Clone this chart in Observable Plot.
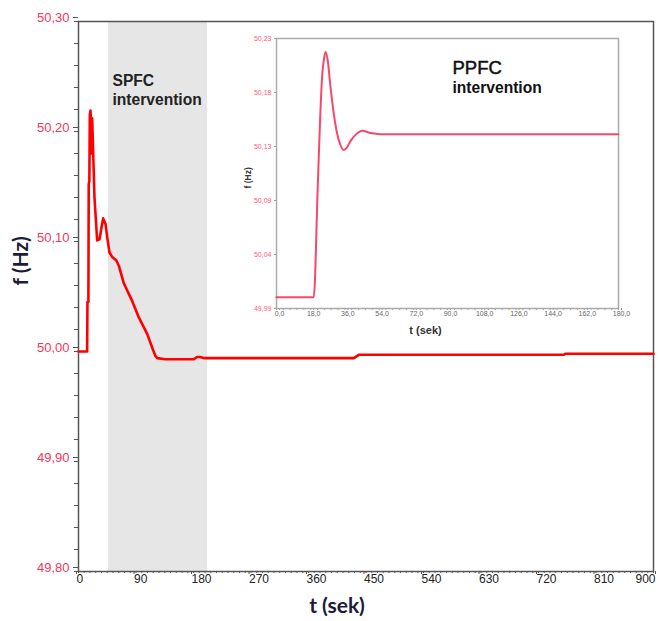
<!DOCTYPE html>
<html>
<head>
<meta charset="utf-8">
<script src="https://cdn.jsdelivr.net/npm/d3@7"></script>
<script src="https://cdn.jsdelivr.net/npm/@observablehq/plot@0.6"></script>
<style>
  html, body { margin: 0; padding: 0; background: #fff; }
  #wrap { position: relative; width: 658px; height: 621px; }
  #inset { position: absolute; left: 230px; top: 25px; }
</style>
</head>
<body>
<div id="wrap"><div id="main"></div><div id="inset"></div></div>
<script>
// ---- Main chart data (time in s, frequency in Hz) ----
const mainT = [0, 13.5, 14, 15.5, 16, 17, 17.7, 18.8, 19.8, 20.3, 21.4, 23, 25, 27.7, 29.2, 32.9, 36, 38.6, 42.3, 44.9, 48.5, 52.7, 59, 63.1, 70.9, 84, 94.4, 107.5, 116.3, 120.5, 123, 136, 180.5, 185.7, 190, 196, 431, 438.7, 759.7, 762, 900];
const mainF = [50.000, 50.000, 50.045, 50.045, 50.152, 50.155, 50.215, 50.219, 50.205, 50.180, 50.212, 50.180, 50.140, 50.115, 50.101, 50.102, 50.113, 50.121, 50.116, 50.104, 50.090, 50.086, 50.083, 50.078, 50.062, 50.046, 50.031, 50.016, 50.002, 49.996, 49.994, 49.993, 49.993, 49.995, 49.995, 49.994, 49.994, 49.997, 49.997, 49.998, 49.998];
const spfcBand = [[47, 202]];

const xTicks = [0, 90, 180, 270, 360, 450, 540, 630, 720, 810, 900];
const xTickLabels = ["0", "90", "180", "270", "360", "450", "540", "630", "720", "810", "900"];
const yTicks = [49.8, 49.9, 50.0, 50.1, 50.2, 50.3];
const yTickLabels = ["49,80", "49,90", "50,00", "50,10", "50,20", "50,30"];

// ---- Inset data (PPFC) ----
const insetT = [0, 19.6, 21.7, 23, 24, 25, 25.8, 27, 28.4, 30, 31.6, 33.5, 35.4, 37, 39, 42, 45.1, 49.5, 54.7, 180];
const insetF = [50.000, 50.000, 50.098, 50.160, 50.196, 50.212, 50.218, 50.210, 50.187, 50.165, 50.148, 50.136, 50.131, 50.133, 50.139, 50.145, 50.148, 50.146, 50.145, 50.145];
const insetXTicks = [0, 18, 36, 54, 72, 90, 108, 126, 144, 162, 180];
const insetXTickLabels = ["0,0", "18,0", "36,0", "54,0", "72,0", "90,0", "108,0", "126,0", "144,0", "162,0", "180,0"];
const insetYTicks = [49.99, 50.038, 50.086, 50.134, 50.182, 50.23];
const insetYTickLabels = ["49,99", "50,04", "50,09", "50,13", "50,18", "50,23"];

const FONT = "'Liberation Sans', Arial, sans-serif";
const TITLEFONT = "Lato, 'Open Sans', sans-serif";

const mainData = mainT.map((t, i) => ({t, f: mainF[i]}));
const insetData = insetT.map((t, i) => ({t, f: insetF[i]}));

const xMinor = d3.range(0, 901, 9);
const yMinor = d3.range(0, 26).map(i => 49.8 + i * 0.02);
const lab = (ticks, labels) => d => labels[ticks.indexOf(d)];

const main = Plot.plot({
  width: 658, height: 621,
  marginLeft: 78, marginRight: 5, marginTop: 21, marginBottom: 50,
  style: {fontFamily: FONT, background: "white", overflow: "visible"},
  x: {domain: [0, 900]},
  y: {domain: [49.8, 50.3]},
  marks: [
    Plot.rectX(spfcBand, {x1: d => d[0], x2: d => d[1], fill: "#e6e6e6"}),
    Plot.axisY({ticks: yMinor, tickSize: 4, tickFormat: () => "", stroke: "#555", label: null}),
    Plot.axisY({ticks: yTicks, tickSize: 5, tickPadding: 4, tickFormat: lab(yTicks, yTickLabels),
      stroke: "#555", fill: "#f5365c", fontSize: 13, dy: -4, label: null}),
    Plot.axisX({ticks: xMinor, tickSize: 2, tickFormat: () => "", stroke: "#555", label: null}),
    Plot.axisX({ticks: xTicks.slice(0, -1), tickSize: 3, tickPadding: 0, tickFormat: lab(xTicks, xTickLabels),
      textAnchor: "start", dx: -2, fontSize: 12, fill: "#222", stroke: "#555", label: null}),
    Plot.axisX({ticks: xTicks.slice(-1), tickSize: 3, tickPadding: 0, tickFormat: lab(xTicks, xTickLabels),
      textAnchor: "end", dx: 2, fontSize: 12, fill: "#222", stroke: "#555", label: null}),
    Plot.frame({stroke: "#555", strokeWidth: 1.5}),
    Plot.line(mainData, {x: "t", y: "f", stroke: "#ff0000", strokeWidth: 2.6}),
    Plot.text(["SPFC\nintervention"], {frameAnchor: "top-left", dx: 34, dy: 51, textAnchor: "start",
      lineAnchor: "top", fontWeight: "bold", fontSize: 15.6, lineHeight: 1.22, fill: "#222"}),
    Plot.text(["f (Hz)"], {frameAnchor: "left", rotate: -90, dx: -57, dy: -11, fontFamily: TITLEFONT,
      fontWeight: "bold", fontSize: 21, fill: "#1c1c38"}),
    Plot.text(["t (sek)"], {frameAnchor: "bottom", dx: -29, dy: 35, lineAnchor: "middle", fontFamily: TITLEFONT,
      fontWeight: "bold", fontSize: 21, fill: "#1c1c38"})
  ]
});
document.getElementById("main").appendChild(main);

const xMinorInset = d3.range(0, 181, 3.6);
const inset = Plot.plot({
  width: 400, height: 315,
  marginLeft: 46, marginRight: 12, marginTop: 13, marginBottom: 32,
  style: {fontFamily: FONT, background: "transparent", overflow: "visible"},
  x: {domain: [0, 180]},
  y: {domain: [49.99, 50.23]},
  marks: [
    Plot.axisY({ticks: insetYTicks, tickSize: 2, tickPadding: 3, tickFormat: lab(insetYTicks, insetYTickLabels),
      stroke: "#999", fill: "#ff5c7c", fontSize: 7, label: null}),
    Plot.axisX({ticks: xMinorInset, tickSize: 2, tickFormat: () => "", stroke: "#999", label: null}),
    Plot.axisX({ticks: insetXTicks, tickSize: 2, tickPadding: 1, tickFormat: lab(insetXTicks, insetXTickLabels),
      stroke: "#999", fill: "#666", fontSize: 7, dx: 3, label: null}),
    Plot.frame({stroke: "#aaa", strokeWidth: 1.5}),
    Plot.line(insetData, {x: "t", y: "f", stroke: "#f7476a", strokeWidth: 2, curve: "monotone-x"}),
    Plot.text(["PPFC"], {frameAnchor: "top-left", dx: 176, dy: 22, textAnchor: "start", lineAnchor: "top",
      fontSize: 18.5, fill: "#111", stroke: "#111", strokeWidth: 0.5}),
    Plot.text(["intervention"], {frameAnchor: "top-left", dx: 176, dy: 43, textAnchor: "start", lineAnchor: "top",
      fontSize: 15.6, fontWeight: "bold", fill: "#111"}),
    Plot.text(["f (Hz)"], {frameAnchor: "left", rotate: -90, dx: -28, dy: 15, fontWeight: "bold",
      fontSize: 8.5, fill: "#333"}),
    Plot.text(["t (sek)"], {frameAnchor: "bottom", dx: -22, dy: 22, lineAnchor: "middle", fontWeight: "bold",
      fontSize: 11, fill: "#333"})
  ]
});
document.getElementById("inset").appendChild(inset);
</script>
</body>
</html>
